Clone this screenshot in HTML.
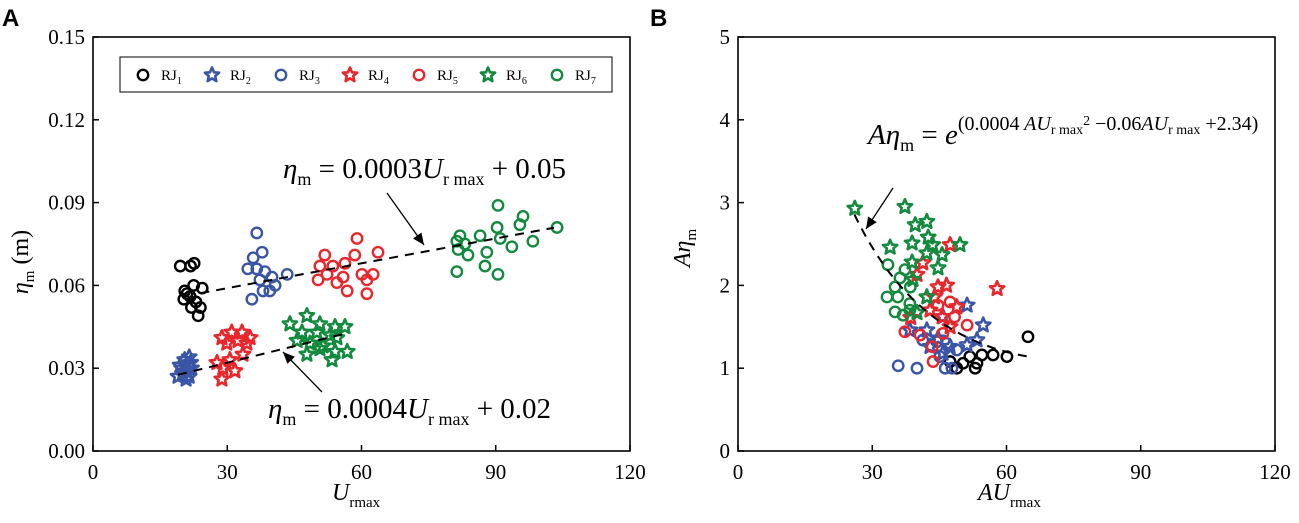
<!DOCTYPE html>
<html><head><meta charset="utf-8"><style>
body{margin:0;background:#fff;}
svg{display:block;font-family:"Liberation Serif",serif;}
</style></head><body>
<svg id="s" width="1299" height="523" viewBox="0 0 1299 523" xmlns="http://www.w3.org/2000/svg"></svg>
<script>
// ---------- Panel A data ----------
const rj1A=[[19.5,.067],[21.8,.067],[22.6,.068],[20.5,.058],[21,.057],[24.4,.059],[21.7,.056],[20.3,.055],[23,.054],[24,.052],[22,.052],[23.5,.049],[22.5,.060]];
const rj2A=[[19.5,.031],[20.5,.033],[21.5,.034],[20,.028],[21,.029],[22,.030],[19,.027],[20.8,.026],[21.5,.027],[19.8,.030],[21.8,.032]];
const rj3A=[[36.6,.079],[37.8,.072],[35.8,.070],[34.6,.066],[36.6,.066],[38.4,.065],[43.4,.064],[40,.063],[37.3,.062],[40.7,.060],[38,.058],[35.5,.055],[39.5,.058]];
const rj4A=[[28.8,.041],[31,.043],[33.3,.043],[35.1,.041],[29.9,.039],[32.4,.040],[34.4,.039],[33.5,.035],[27.7,.032],[30.6,.033],[29,.030],[31.7,.029],[28.8,.026]];
const rj5A=[[59,.077],[51.8,.071],[58.5,.071],[63.7,.072],[56.3,.068],[50.7,.067],[53.6,.067],[52.3,.064],[55.9,.063],[60.1,.064],[62.6,.064],[50.3,.062],[54.5,.061],[61.2,.062],[56.8,.058],[61.2,.057]];
const rj6A=[[44,.046],[47.8,.049],[50.7,.046],[54.1,.045],[56.3,.045],[46.7,.043],[50,.043],[53,.042],[54.5,.041],[45.6,.040],[48.5,.039],[51.4,.038],[47.8,.035],[54.1,.036],[56.8,.036],[53.4,.033],[50.7,.037]];
const rj7A=[[90.5,.089],[96.1,.085],[95.4,.082],[90.3,.081],[103.7,.081],[82,.078],[86.5,.078],[91,.077],[81.3,.076],[83.1,.075],[98.3,.076],[81.6,.073],[83.8,.071],[88,.072],[93.6,.074],[87.6,.067],[81.3,.065],[90.5,.064]];
const xTicksA=[0,30,60,90,120];
const yTicksA=[0,0.03,0.06,0.09,0.12,0.15];
const fitUpper=[0.0003,0.05,24,103];
const fitLower=[0.0004,0.02,19,56];
// ---------- Panel B data ----------
const rj1B=[[64.8,1.38],[60.1,1.14],[57,1.16],[54.5,1.16],[51.8,1.14],[53.4,1.06],[50.3,1.06],[48.9,1.0],[53,1.0],[47.4,1.08]];
const rj2B=[[51.2,1.76],[54.8,1.52],[53.4,1.34],[45.8,1.62],[38.4,1.46],[42.2,1.46],[44.7,1.36],[47.4,1.26],[42.9,1.26],[45.8,1.18],[51.2,1.28]];
const rj3B=[[35.8,1.03],[40,1.0],[46.3,1.0],[47.8,1.0],[41.3,1.34],[44.5,1.32],[46.6,1.30],[48.9,1.22],[45.1,1.14]];
const rj4B=[[47.4,2.49],[57.9,1.96],[41.3,2.27],[40,2.13],[44.7,1.98],[46.6,2.0],[43.9,1.86],[48.9,1.74],[42.9,1.70],[45.6,1.62],[47.4,1.50],[38.6,1.61]];
const rj5B=[[47.4,1.80],[44.7,1.76],[48.4,1.62],[51.2,1.52],[37.3,1.44],[40.7,1.40],[43.4,1.26],[43.6,1.08],[45.8,1.42]];
const rj6B=[[26.1,2.93],[37.3,2.95],[39.6,2.73],[42.2,2.77],[42.5,2.58],[34,2.46],[38.9,2.51],[49.6,2.49],[43.5,2.49],[45.6,2.37],[42.2,2.39],[38.9,2.28],[44.7,2.21],[39.1,2.07],[42.2,1.86],[40,1.67]];
const rj7B=[[33.5,2.25],[37.3,2.19],[36.2,2.09],[35.1,1.98],[38.5,1.98],[33.3,1.86],[35.7,1.86],[38.4,1.78],[35.1,1.68],[36.9,1.64],[38.4,1.70]];
const xTicksB=[0,30,60,90,120];
const yTicksB=[0,1,2,3,4,5];
const fitB=[0.0004,-0.06,2.34,26,65];

const NS="http://www.w3.org/2000/svg";
const svg=document.getElementById('s');
function el(t,a,p){const e=document.createElementNS(NS,t);for(const k in a)e.setAttribute(k,a[k]);(p||svg).appendChild(e);return e;}
const C={k:"#000",b:"#3a55a6",r:"#e8262b",g:"#138a3e"};
function starPts(cx,cy,R){let p=[];for(let i=0;i<10;i++){const r=i%2?R*0.45:R;const a=-Math.PI/2+i*Math.PI/5;p.push((cx+r*Math.cos(a)).toFixed(1)+","+(cy+r*Math.sin(a)).toFixed(1));}return p.join(" ");}
function marker(g,type,col,x,y){
  if(type==='o'){const c=el('circle',{cx:x,cy:y,r:5.2,fill:'none',stroke:col,'stroke-width':2.4},g);
    }
  else{const s=el('polygon',{points:starPts(x,y,7.5),fill:'none',stroke:col,'stroke-width':2.6,'stroke-linejoin':'round'},g);
    }
}
function panel(o){
  const g=el('g',{});
  const X=v=>o.x0+(v-o.xmin)/(o.xmax-o.xmin)*(o.x1-o.x0);
  const Y=v=>o.y0-(v-o.ymin)/(o.ymax-o.ymin)*(o.y0-o.y1);
  o.series.forEach(s=>{const sg=el('g',{},g);
    s.data.forEach(d=>marker(sg,s.t,s.c,X(d[0]),Y(d[1])));});
  const fr=el('rect',{x:o.x0,y:o.y1,width:o.x1-o.x0,height:o.y0-o.y1,fill:'none',stroke:'#000','stroke-width':1.6},g);
  
  const xa=el('g',{},g);
  o.xt.forEach(v=>{el('line',{x1:X(v),x2:X(v),y1:o.y0,y2:o.y0-6,stroke:'#000','stroke-width':1.5},xa);
    const t=el('text',{x:X(v),y:o.y0+28,'font-size':21,'text-anchor':'middle'},xa);t.textContent=v;
    });
  const ya=el('g',{},g);
  o.yt.forEach(v=>{el('line',{x1:o.x0,x2:o.x0+6,y1:Y(v),y2:Y(v),stroke:'#000','stroke-width':1.5},ya);
    const t=el('text',{x:o.x0-8,y:Y(v)+7,'font-size':21,'text-anchor':'end'},ya);t.textContent=o.fmt(v);
    });
  return {g,X,Y};
}
const A=panel({name:'panel-a',x0:93,x1:630,y0:451,y1:37,xmin:0,xmax:120,ymin:0,ymax:0.15,xt:xTicksA,yt:yTicksA,fmt:v=>v.toFixed(2),
 series:[{name:'rj1',t:'o',c:C.k,data:rj1A},{name:'rj2',t:'s',c:C.b,data:rj2A},{name:'rj3',t:'o',c:C.b,data:rj3A},{name:'rj4',t:'s',c:C.r,data:rj4A},{name:'rj5',t:'o',c:C.r,data:rj5A},{name:'rj6',t:'s',c:C.g,data:rj6A},{name:'rj7',t:'o',c:C.g,data:rj7A}]});
[fitUpper,fitLower].forEach((f,i)=>{const l=el('line',{x1:A.X(f[2]),y1:A.Y(f[0]*f[2]+f[1]),x2:A.X(f[3]),y2:A.Y(f[0]*f[3]+f[1]),stroke:'#000','stroke-width':2,'stroke-dasharray':'9,7'});
 });
const B=panel({name:'panel-b',x0:738,x1:1275,y0:451,y1:37,xmin:0,xmax:120,ymin:0,ymax:5,xt:xTicksB,yt:yTicksB,fmt:v=>String(v),
 series:[{name:'rj1',t:'o',c:C.k,data:rj1B},{name:'rj2',t:'s',c:C.b,data:rj2B},{name:'rj3',t:'o',c:C.b,data:rj3B},{name:'rj4',t:'s',c:C.r,data:rj4B},{name:'rj5',t:'o',c:C.r,data:rj5B},{name:'rj6',t:'s',c:C.g,data:rj6B},{name:'rj7',t:'o',c:C.g,data:rj7B}]});
{let p=[];for(let x=fitB[3];x<=fitB[4];x+=0.5){p.push(B.X(x).toFixed(1)+","+B.Y(Math.exp(fitB[0]*x*x+fitB[1]*x+fitB[2])).toFixed(1));}
 const l=el('polyline',{points:p.join(" "),fill:'none',stroke:'#000','stroke-width':2,'stroke-dasharray':'9,7'});
 }
// legend
const lg=el('g',{});
el('rect',{x:120,y:57,width:492,height:35,fill:'#fff',stroke:'#000','stroke-width':1},lg);
const legT=[['o',C.k,'1'],['s',C.b,'2'],['o',C.b,'3'],['s',C.r,'4'],['o',C.r,'5'],['s',C.g,'6'],['o',C.g,'7']];
legT.forEach((d,i)=>{const x=143+i*69;const e=el('g',{},lg);
 marker(e,d[0],d[1],x,75);const t=el('text',{x:x+18,y:80,'font-size':15},e);t.innerHTML='RJ<tspan font-size="10" dy="4">'+d[2]+'</tspan>';});
</script>
<svg width="1299" height="523" style="position:absolute;left:0;top:0" xmlns="http://www.w3.org/2000/svg" font-family="Liberation Serif, serif">
<defs><marker id="ah" markerWidth="10" markerHeight="10" refX="9" refY="5" orient="auto"><path d="M0,1 L9,5 L0,9 z" fill="#000"/></marker></defs>
<text x="2" y="26" font-family="Liberation Sans, sans-serif" font-weight="bold" font-size="24">A</text>
<text x="650" y="26" font-family="Liberation Sans, sans-serif" font-weight="bold" font-size="24">B</text>
<text x="283" y="178" font-size="29"><tspan font-style="italic">η</tspan><tspan font-size="18" dy="7">m</tspan><tspan dy="-7"> = 0.0003</tspan><tspan font-style="italic">U</tspan><tspan font-size="18" dy="7">r max</tspan><tspan dy="-7"> + 0.05</tspan></text>
<text x="268" y="418" font-size="29"><tspan font-style="italic">η</tspan><tspan font-size="18" dy="7">m</tspan><tspan dy="-7"> = 0.0004</tspan><tspan font-style="italic">U</tspan><tspan font-size="18" dy="7">r max</tspan><tspan dy="-7"> + 0.02</tspan></text>
<line x1="387" y1="193" x2="424" y2="245" stroke="#000" stroke-width="1.3" marker-end="url(#ah)"/>
<line x1="322" y1="392" x2="283" y2="352" stroke="#000" stroke-width="1.3" marker-end="url(#ah)"/>
<text x="868" y="144" font-size="29"><tspan font-style="italic">Aη</tspan><tspan font-size="18" dy="7">m</tspan><tspan dy="-7"> = </tspan><tspan font-style="italic">e</tspan><tspan font-size="20" dy="-14">(0.0004</tspan><tspan font-size="20" font-style="italic"> AU</tspan><tspan font-size="14" dy="4">r max</tspan><tspan font-size="14" dy="-9">2</tspan><tspan font-size="20" dy="5"> −0.06</tspan><tspan font-size="20" font-style="italic">AU</tspan><tspan font-size="14" dy="4">r max</tspan><tspan font-size="20" dy="-4"> +2.34)</tspan></text>
<line x1="893" y1="188" x2="866" y2="229" stroke="#000" stroke-width="1.3" marker-end="url(#ah)"/>
<text x="332" y="500" font-size="24" font-style="italic">U<tspan font-size="15" font-style="normal" dy="7">rmax</tspan></text>
<text x="978" y="500" font-size="24" font-style="italic">AU<tspan font-size="15" font-style="normal" dy="7">rmax</tspan></text>
<text transform="translate(28,262) rotate(-90)" font-size="24" text-anchor="middle"><tspan font-style="italic">η</tspan><tspan font-size="15" dy="6">m</tspan><tspan dy="-6"> (m)</tspan></text>
<text transform="translate(690,248) rotate(-90)" font-size="24" text-anchor="middle"><tspan font-style="italic">Aη</tspan><tspan font-size="15" dy="6">m</tspan></text>
</svg>
</body></html>
